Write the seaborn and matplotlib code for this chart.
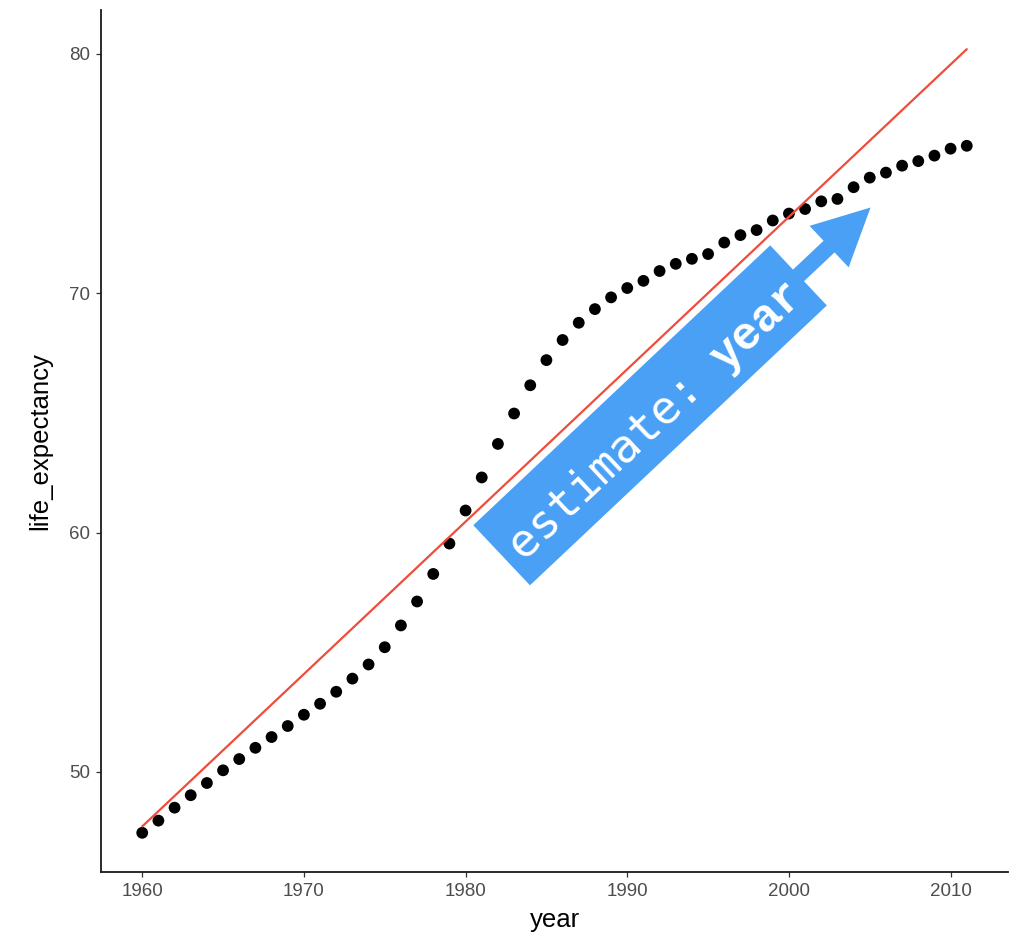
import numpy as np
import pandas as pd
import matplotlib
matplotlib.use("Agg")
import matplotlib.pyplot as plt
import matplotlib.transforms as mtransforms
from matplotlib.patches import Polygon
import seaborn as sns

# Life expectancy by year
years = list(range(1960, 2012))
life_expectancy = [
    47.46, 47.97, 48.51, 49.03, 49.54, 50.07, 50.54, 51.01, 51.46, 51.92,
    52.39, 52.85, 53.35, 53.90, 54.49, 55.21, 56.12, 57.12, 58.27, 59.54,
    60.92, 62.30, 63.70, 64.97, 66.15, 67.20, 68.04, 68.76, 69.33, 69.82,
    70.21, 70.51, 70.92, 71.22, 71.43, 71.63, 72.11, 72.42, 72.63, 73.03,
    73.32, 73.51, 73.83, 73.93, 74.42, 74.82, 75.03, 75.32, 75.51, 75.74,
    76.03, 76.15,
]
x_ticks = [1960, 1970, 1980, 1990, 2000, 2010]
y_ticks = [50, 60, 70, 80]
label_plain = "estimate: "
label_bold = "year"

df = pd.DataFrame({"year": years, "life_expectancy": life_expectancy})

sns.set_style("ticks")
plt.rcParams["font.family"] = ["Liberation Sans", "DejaVu Sans"]

DPI = 100
fig = plt.figure(figsize=(10.15, 9.39), dpi=DPI)
ax = fig.add_axes([101 / 1015, 1 - 872 / 939, (1008 - 101) / 1015, (872 - 10) / 939])

line_color = "#EE4D3B"
arrow_color = "#49A0F5"

sns.regplot(
    data=df, x="year", y="life_expectancy", ax=ax, ci=None, truncate=True,
    scatter_kws=dict(s=72, color="black", edgecolor="none", alpha=1, zorder=2),
    line_kws=dict(color=line_color, lw=1.6, zorder=3),
)

# axis ranges with 5% padding around data and fitted line
slope, intercept = np.polyfit(df["year"], df["life_expectancy"], 1)
fit_ends = slope * np.array([years[0], years[-1]]) + intercept
xmin, xmax = years[0], years[-1]
ymin = min(min(life_expectancy), fit_ends.min())
ymax = max(max(life_expectancy), fit_ends.max())
xpad = 0.05 * (xmax - xmin)
ypad = 0.05 * (ymax - ymin)
ax.set_xlim(xmin - xpad, xmax + xpad)
ax.set_ylim(ymin - ypad, ymax + ypad)
ax.set_xticks(x_ticks)
ax.set_yticks(y_ticks)

sns.despine(ax=ax)
for side in ("left", "bottom"):
    ax.spines[side].set_linewidth(1.3)
    ax.spines[side].set_color("#1A1A1A")
ax.tick_params(axis="both", direction="out", length=3.8, width=0.9,
               color="#333333", labelcolor="#4D4D4D", labelsize=13.5, pad=4)
ax.set_xlabel("year", fontsize=18.5, color="black", labelpad=6)
ax.set_ylabel("life_expectancy", fontsize=18.5, color="black", labelpad=12)

# label arrow running parallel to the fitted line
p0 = ax.transData.transform((years[0], fit_ends[0]))
p1 = ax.transData.transform((years[-1], fit_ends[1]))
theta = np.degrees(np.arctan2(p1[1] - p0[1], p1[0] - p0[0]))
anchor = (1982.23, 59.05)
local = mtransforms.Affine2D().rotate_deg(theta) + \
    mtransforms.ScaledTranslation(anchor[0], anchor[1], ax.transData)

box_len, box_half = 408, 41.3
shaft_end, shaft_half = 450, 8
head_half, tip = 28.5, 507
outline = [
    (0, -box_half), (box_len, -box_half), (box_len, -shaft_half),
    (shaft_end, -shaft_half), (shaft_end, -head_half), (tip, 0),
    (shaft_end, head_half), (shaft_end, shaft_half), (box_len, shaft_half),
    (box_len, box_half), (0, box_half),
]
ax.add_patch(Polygon(outline, closed=True, transform=local, facecolor=arrow_color,
                     edgecolor="none", clip_on=False, zorder=4))

fs = 33
advance = 0.602 * fs * DPI / 72
text_u, text_w = 12, -20
ax.text(text_u, text_w, label_plain, transform=local, rotation=theta,
        rotation_mode="anchor", ha="left", va="baseline", fontsize=fs,
        family=["DejaVu Sans Mono"], color="white", zorder=5)
ax.text(text_u + len(label_plain) * advance, text_w, label_bold, transform=local,
        rotation=theta, rotation_mode="anchor", ha="left", va="baseline",
        fontsize=fs, family=["Liberation Mono", "DejaVu Sans Mono"],
        fontweight="bold", color="white", zorder=5)

fig.savefig("out.png", dpi=DPI, facecolor="white")
